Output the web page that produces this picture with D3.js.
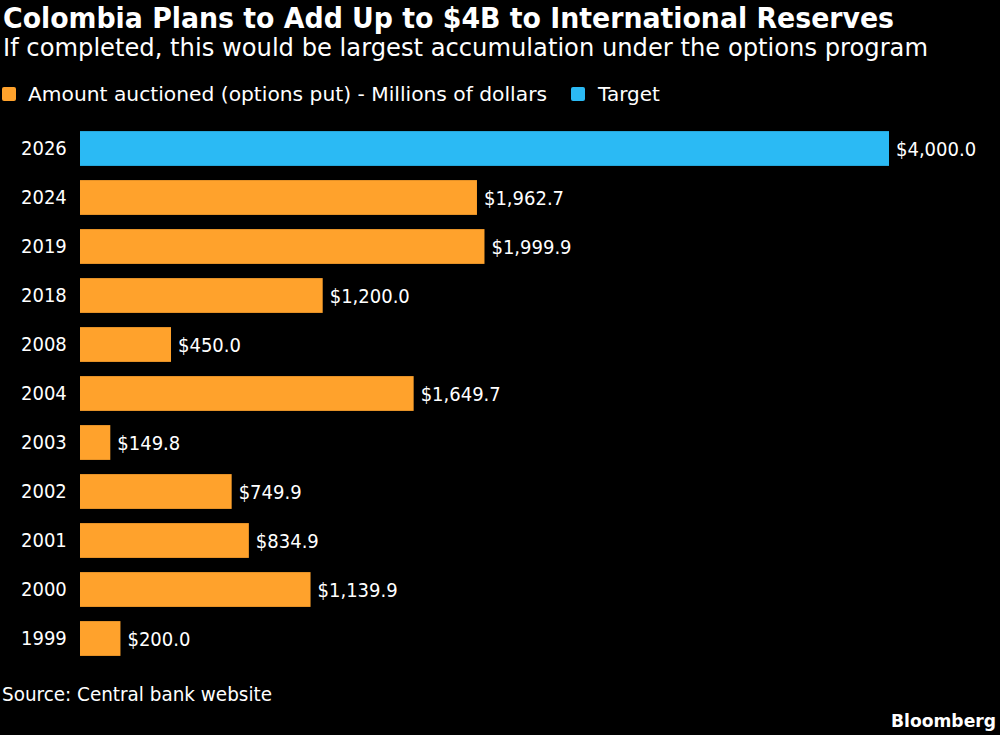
<!DOCTYPE html>
<html><head><meta charset="utf-8">
<script src="https://cdn.jsdelivr.net/npm/d3@7"></script>
<style>
html,body{margin:0;padding:0;background:#000;}
svg{display:block;}
text{font-family:"DejaVu Sans Condensed","DejaVu Sans",sans-serif;fill:#fff;}
</style></head><body>
<svg id="chart" width="1000" height="735"></svg>
<script>
const categories = ["2026","2024","2019","2018","2008","2004","2003","2002","2001","2000","1999"];
const values = [4000.0,1962.7,1999.9,1200.0,450.0,1649.7,149.8,749.9,834.9,1139.9,200.0];
const seriesNames = ["Amount auctioned (options put) - Millions of dollars","Target"];
const seriesOf = ["Target","Amount","Amount","Amount","Amount","Amount","Amount","Amount","Amount","Amount","Amount"];
const colors = {Amount:"#ffa22c", Target:"#2bbaf4"};

const svg = d3.select("#chart");
svg.append("rect").attr("width",1000).attr("height",735).attr("fill","#000");

function fitText(sel, w){
  const n = sel.node(); const l = n.getComputedTextLength();
  if (l>0) sel.attr("textLength", w).attr("lengthAdjust","spacingAndGlyphs");
}

const title = svg.append("text").attr("x",3).attr("y",28).attr("font-size",28).attr("font-weight","bold")
  .style("font-family","DejaVu Sans").text("Colombia Plans to Add Up to $4B to International Reserves");
fitText(title, 891);
const sub = svg.append("text").attr("x",3).attr("y",56).attr("font-size",24)
  .style("font-family","DejaVu Sans").text("If completed, this would be largest accumulation under the options program");
fitText(sub, 925);

// legend
const leg = svg.append("g");
leg.append("rect").attr("x",2).attr("y",87).attr("width",14).attr("height",14).attr("rx",2).attr("fill",colors.Amount);
const l1 = leg.append("text").attr("x",28).attr("y",101).attr("font-size",20).style("font-family","DejaVu Sans").text(seriesNames[0]);
fitText(l1, 519);
leg.append("rect").attr("x",571).attr("y",87).attr("width",14).attr("height",14).attr("rx",2).attr("fill",colors.Target);
leg.append("text").attr("x",598).attr("y",101).attr("font-size",20).style("font-family","DejaVu Sans").text(seriesNames[1]);

const x = d3.scaleLinear().domain([0,4000]).range([80,889]);
const y = d3.scaleBand().domain(categories).range([124,663]).paddingInner(0.29).paddingOuter(0.145);

const fmt = d3.format("$,.1f");
const g = svg.append("g");
g.selectAll("rect.bar").data(categories).join("rect").attr("class","bar")
  .attr("x",x(0)).attr("y",d=>y(d)).attr("height",y.bandwidth())
  .attr("width",(d,i)=>x(values[i])-x(0)).attr("fill",(d,i)=>colors[seriesOf[i]]);
g.selectAll("text.val").data(categories).join("text").attr("class","val")
  .attr("x",(d,i)=>x(values[i])+7).attr("y",d=>y(d)+y.bandwidth()/2).attr("dy","0.35em")
  .attr("font-size",20).text((d,i)=>fmt(values[i]));

const yAxis = d3.axisLeft(y).tickSize(0).tickPadding(14);
const ax = svg.append("g").attr("transform",`translate(${x(0)},0)`).call(yAxis);
ax.select(".domain").remove();
ax.selectAll("text").attr("font-size",20).attr("fill","#fff").attr("text-anchor","start").attr("x",-59)
  .style("font-family","DejaVu Sans Condensed");

const src = svg.append("text").attr("x",2).attr("y",701).attr("font-size",20).text("Source: Central bank website");
fitText(src, 270);
const bb = svg.append("text").attr("x",996).attr("y",727).attr("font-size",18).attr("font-weight","bold")
  .attr("text-anchor","end").style("font-family","DejaVu Sans").text("Bloomberg");
fitText(bb, 105);
</script></body></html>
